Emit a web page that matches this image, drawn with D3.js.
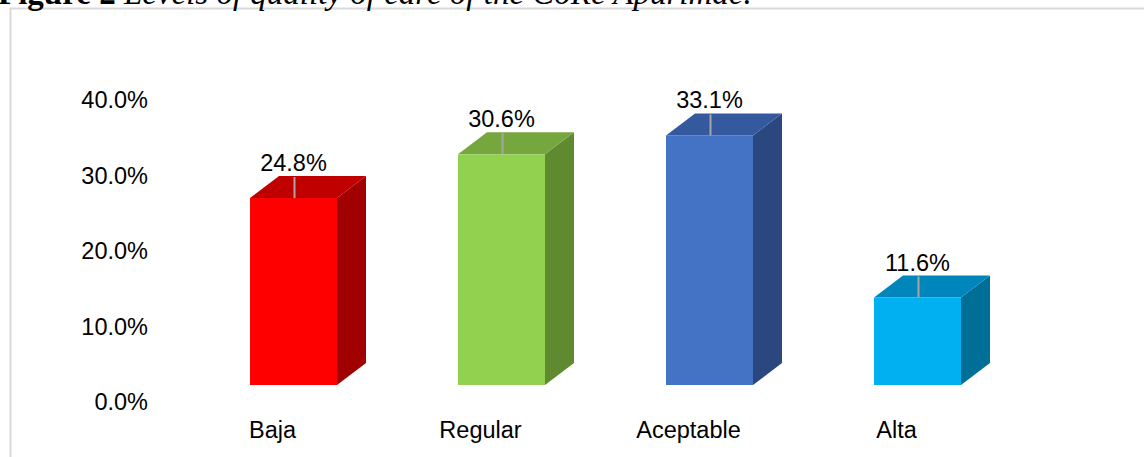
<!DOCTYPE html>
<html>
<head>
<meta charset="utf-8">
<script src="https://cdn.jsdelivr.net/npm/d3@7"></script>
<style>
  body { margin: 0; background: #fff; }
  svg { display: block; }
</style>
</head>
<body>
<div id="chart"></div>
<script>
const categorias = ['Baja', 'Regular', 'Aceptable', 'Alta'];
const porcentajes = [24.8, 30.6, 33.1, 11.6];
const ticks = [0, 10, 20, 30, 40];

const coresFrente = ['#ff0000', '#92d050', '#4472c4', '#00b0f0'];
const coresTopo = ['#c00000', '#76a73e', '#34599e', '#0086bb'];
const coresLado = ['#a00000', '#5f8a30', '#2a477f', '#006f98'];

const width = 1144, height = 457;
const depthX = 29, depthY = -22;
const barW = 87;

const svg = d3.select('#chart')
    .append('svg')
        .attr('width', width)
        .attr('height', height);

// moldura
svg.append('rect')
    .attr('x', 10.5)
    .attr('y', 8.5)
    .attr('width', 1200)
    .attr('height', 500)
    .attr('fill', 'none')
    .attr('stroke', '#d9d9d9')
    .attr('stroke-width', 2);

// titulo (cortado no topo, como na figura original)
let titulo = svg.append('text')
    .attr('x', -2)
    .attr('y', 4)
    .attr('font-family', '"Liberation Serif", "Times New Roman", serif')
    .attr('font-size', '33px')
    .attr('fill', '#000');
titulo.append('tspan').attr('font-weight', 'bold').text('Figure 2 ');
titulo.append('tspan').attr('font-style', 'italic').text('Levels of quality of care of the CoRe Apurimac.');

const xScale = d3.scalePoint()
    .domain(categorias)
    .range([189.5, 1021.5])
    .padding(0.5);

const yScale = d3.scaleLinear()
    .domain([0, 40])
    .range([385, 83.4]);

const font = '"Liberation Sans", Arial, sans-serif';

// Eixo Y (rótulos apenas)
svg.selectAll('.tick-label')
    .data(ticks)
    .enter()
    .append('text')
        .attr('class', 'tick-label')
        .attr('x', 148)
        .attr('y', d => yScale(d) + 25)
        .attr('text-anchor', 'end')
        .attr('font-family', font)
        .attr('font-size', '23.5px')
        .attr('fill', '#000')
        .text(d => d3.format('.1f')(d) + '%');

const dados = categorias.map((c, i) => ({ cat: c, value: porcentajes[i], i: i }));

const barras = svg.selectAll('.barra')
    .data(dados)
    .enter()
    .append('g')
        .attr('class', 'barra');

// face lateral
barras.append('path')
    .attr('d', d => {
        let x1 = xScale(d.cat) + barW / 2;
        let yt = yScale(d.value), yb = yScale(0);
        return `M${x1},${yt} L${x1 + depthX},${yt + depthY} L${x1 + depthX},${yb + depthY} L${x1},${yb} Z`;
    })
    .attr('fill', d => coresLado[d.i]);

// topo
barras.append('path')
    .attr('d', d => {
        let x0 = xScale(d.cat) - barW / 2, x1 = x0 + barW;
        let yt = yScale(d.value);
        return `M${x0},${yt} L${x0 + depthX},${yt + depthY} L${x1 + depthX},${yt + depthY} L${x1},${yt} Z`;
    })
    .attr('fill', d => coresTopo[d.i]);

// frente
barras.append('rect')
    .attr('x', d => xScale(d.cat) - barW / 2)
    .attr('y', d => yScale(d.value))
    .attr('width', barW)
    .attr('height', d => yScale(0) - yScale(d.value))
    .attr('fill', d => coresFrente[d.i]);

// linhas de chamada
barras.append('line')
    .attr('x1', d => xScale(d.cat) + 1)
    .attr('x2', d => xScale(d.cat) + 1)
    .attr('y1', d => yScale(d.value) - 21)
    .attr('y2', d => yScale(d.value))
    .attr('stroke', '#a6a6a6')
    .attr('stroke-width', 2);

// rótulos de valor
barras.append('text')
    .attr('x', d => xScale(d.cat))
    .attr('y', d => yScale(d.value) - 27)
    .attr('text-anchor', 'middle')
    .attr('font-family', font)
    .attr('font-size', '23.5px')
    .attr('fill', '#000')
    .text(d => d3.format('.1f')(d.value) + '%');

// Eixo X (categorias)
svg.selectAll('.cat-label')
    .data(categorias)
    .enter()
    .append('text')
        .attr('class', 'cat-label')
        .attr('x', d => xScale(d) - 21)
        .attr('y', 438)
        .attr('text-anchor', 'middle')
        .attr('font-family', font)
        .attr('font-size', '23.5px')
        .attr('fill', '#000')
        .text(d => d);
</script>
</body>
</html>
